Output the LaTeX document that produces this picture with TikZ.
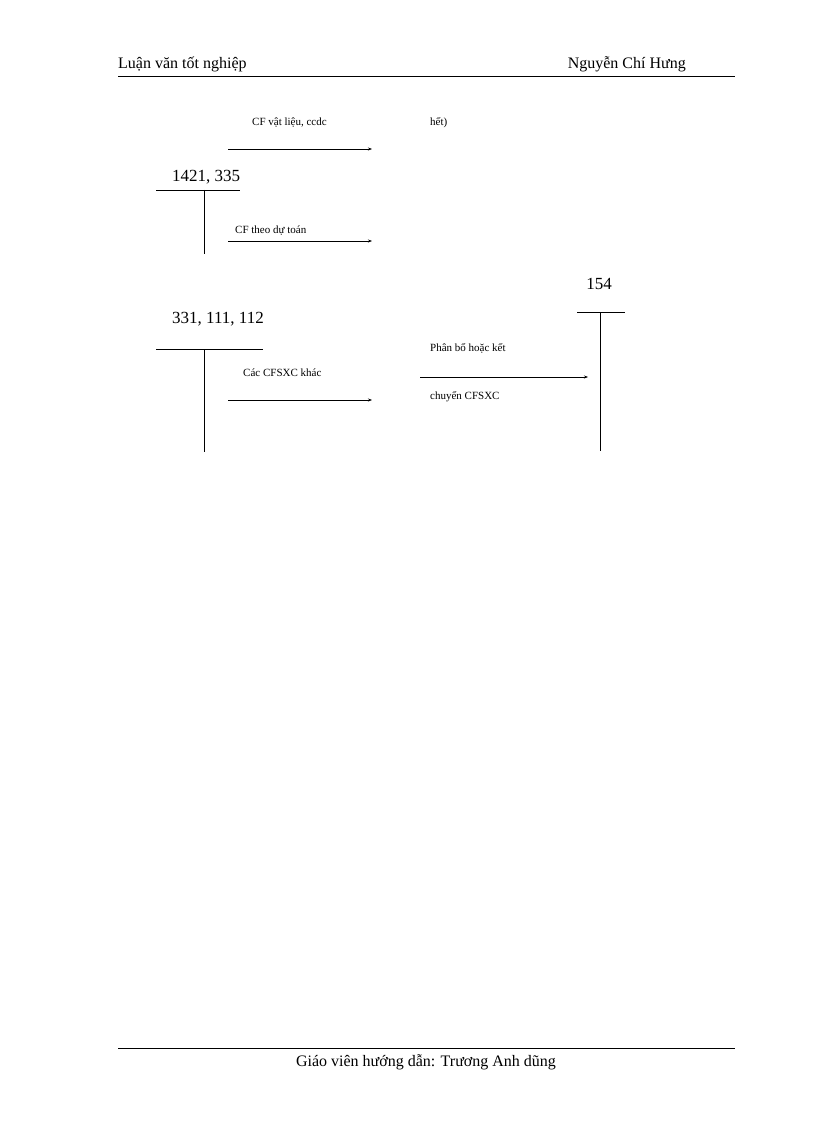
\documentclass[tikz,border=0pt]{standalone}
\usepackage{fontspec}
\setmainfont{Liberation Serif}
\usetikzlibrary{arrows.meta}
\begin{document}
\begin{tikzpicture}[x=1pt,y=-1pt,
  hdr/.style={font=\fontsize{16}{18}\selectfont,inner sep=0},
  acc/.style={font=\fontsize{17}{19}\selectfont,inner sep=0},
  lbl/.style={font=\fontsize{11}{13}\selectfont,inner sep=0,anchor=west},
  rule/.style={line width=0.8pt},
  arr/.style={line width=0.6pt,-{Stealth[length=4pt,width=3pt]}}]
\useasboundingbox (0,0) rectangle (816,1123);
% header / footer
\node[hdr,anchor=west] (h1) at (118,64) {Luận văn tốt nghiệp};
\node[hdr,anchor=east] (h2) at (686,64) {Nguyễn Chí Hưng};
\draw[rule] (118,76) -- (735,76);
\draw[rule] (118,1048) -- (735,1048);
\node[hdr] (f1) at (426,1062) {Giáo viên hướng dẫn: Trương Anh dũng};
% arrow 1
\coordinate (a1s) at (228,149); \coordinate (a1e) at (372,149);
\draw[arr] (a1s) -- (a1e);
\node[lbl] (l1) at (252,123) {CF vật liệu, ccdc};
\node[lbl] (l1b) at (430,123) {hết)};
% account 1421, 335
\node[acc] (t1) at (206,177) {1421, 335};
\draw[rule] (156,190) -- (240,190);
\draw[rule] (204,190) -- (204,254);
\coordinate (a2s) at (228,241); \coordinate (a2e) at (372,241);
\draw[arr] (a2s) -- (a2e);
\node[lbl] (l2) at (235,231) {CF theo dự toán};
% account 154
\node[acc] (t3) at (599,284) {154};
\draw[rule] (577,312) -- (625,312);
\draw[rule] (600,312) -- (600,451);
% account 331,111,112
\node[acc] (t2) at (218,319) {331, 111, 112};
\draw[rule] (156,349) -- (263,349);
\draw[rule] (204,349) -- (204,452);
\node[lbl] (l3) at (243,373) {Các CFSXC khác};
\coordinate (a3s) at (228,400); \coordinate (a3e) at (372,400);
\draw[arr] (a3s) -- (a3e);
% transfer to 154
\node[lbl] (l4) at (430,348) {Phân bổ hoặc kết};
\coordinate (a4s) at (420,377); \coordinate (a4e) at (588,377);
\draw[arr] (a4s) -- (a4e);
\node[lbl] (l5) at (430,397) {chuyển CFSXC};
\end{tikzpicture}
\end{document}
